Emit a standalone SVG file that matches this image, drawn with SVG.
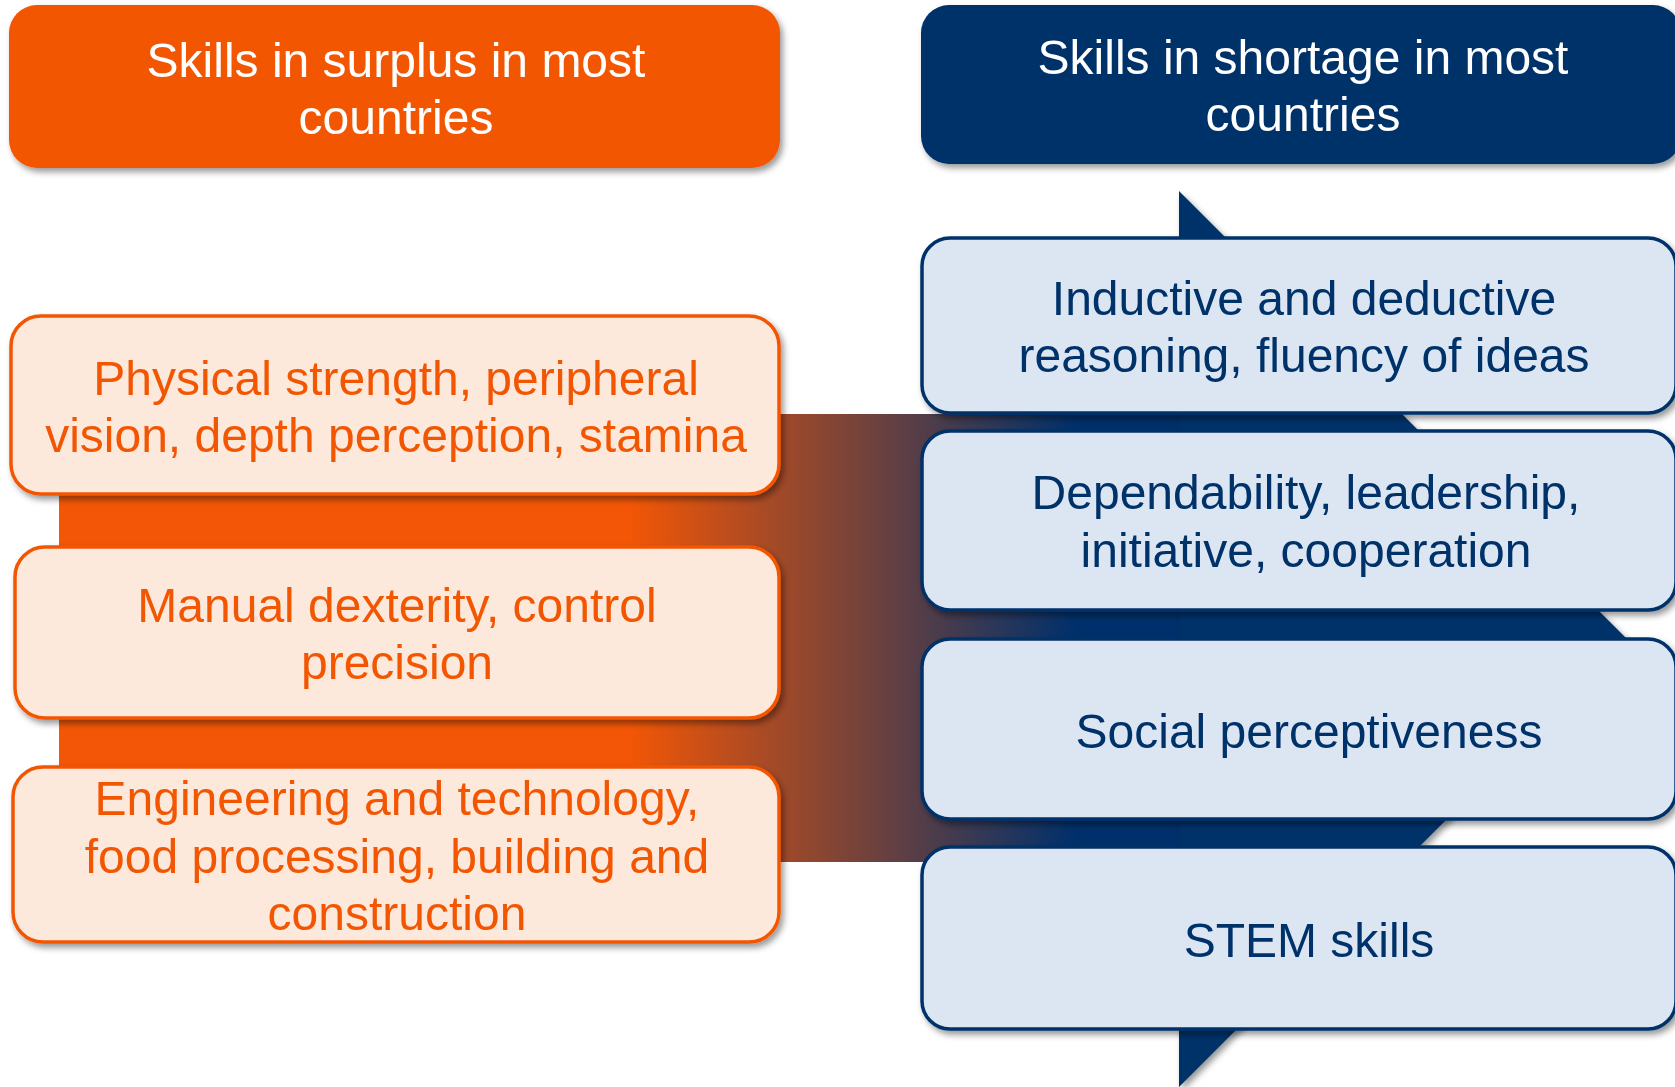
<svg xmlns="http://www.w3.org/2000/svg" width="1675" height="1087" viewBox="0 0 1675 1087">
<style>
text{font-family:"Liberation Sans",Arial,sans-serif;font-size:48px;text-anchor:middle}
.hdrT{fill:#FFFFFF}
.oT{fill:#F25606}
.bT{fill:#00306B}
.oBox{fill:#FCE9DB;stroke:#F25606;stroke-width:3.5}
.bBox{fill:#DCE6F2;stroke:#00306B;stroke-width:3.5}
</style>
<defs>
<filter id="sh" x="-10%" y="-10%" width="125%" height="130%">
<feDropShadow dx="3" dy="4" stdDeviation="3" flood-color="#000" flood-opacity="0.4"/>
</filter>
<linearGradient id="band" gradientUnits="userSpaceOnUse" x1="630" y1="0" x2="1075" y2="0">
<stop offset="0" stop-color="#F25606"/>
<stop offset="1" stop-color="#00306B"/>
</linearGradient>
</defs>
<g id="connectors">
<rect x="59" y="414" width="1125" height="448" fill="url(#band)"/>
<polygon points="1179,191 1627,639 1179,1087" fill="#00306B" filter="url(#sh)"/>
</g>
<g id="header-surplus" filter="url(#sh)">
<rect x="9" y="5" width="771" height="163" rx="28" fill="#F25606"/>
<text class="hdrT" x="396" y="77">Skills in surplus in most</text>
<text class="hdrT" x="396" y="134">countries</text>
</g>
<g id="header-shortage" filter="url(#sh)">
<rect x="921" y="5" width="760" height="159" rx="28" fill="#00306B"/>
<text class="hdrT" x="1303" y="74">Skills in shortage in most</text>
<text class="hdrT" x="1303" y="131">countries</text>
</g>
<g id="surplus-1" filter="url(#sh)">
<rect class="oBox" x="11" y="316" width="768" height="178" rx="30"/>
<text class="oT" x="396" y="395">Physical strength, peripheral</text>
<text class="oT" x="396" y="452">vision, depth perception, stamina</text>
</g>
<g id="surplus-2" filter="url(#sh)">
<rect class="oBox" x="15" y="547" width="764" height="171" rx="30"/>
<text class="oT" x="397" y="622">Manual dexterity, control</text>
<text class="oT" x="397" y="679">precision</text>
</g>
<g id="surplus-3" filter="url(#sh)">
<rect class="oBox" x="13" y="767" width="766" height="175" rx="30"/>
<text class="oT" x="397" y="815">Engineering and technology,</text>
<text class="oT" x="397" y="873">food processing, building and</text>
<text class="oT" x="397" y="930">construction</text>
</g>
<g id="shortage-1" filter="url(#sh)">
<rect class="bBox" x="922" y="238" width="754" height="175" rx="28"/>
<text class="bT" x="1304" y="315">Inductive and deductive</text>
<text class="bT" x="1304" y="372">reasoning, fluency of ideas</text>
</g>
<g id="shortage-2" filter="url(#sh)">
<rect class="bBox" x="922" y="431" width="754" height="179" rx="28"/>
<text class="bT" x="1306" y="509">Dependability, leadership,</text>
<text class="bT" x="1306" y="567">initiative, cooperation</text>
</g>
<g id="shortage-3" filter="url(#sh)">
<rect class="bBox" x="922" y="639" width="754" height="180" rx="28"/>
<text class="bT" x="1309" y="748">Social perceptiveness</text>
</g>
<g id="shortage-4" filter="url(#sh)">
<rect class="bBox" x="922" y="847" width="754" height="182" rx="28"/>
<text class="bT" x="1309" y="957">STEM skills</text>
</g>
</svg>
